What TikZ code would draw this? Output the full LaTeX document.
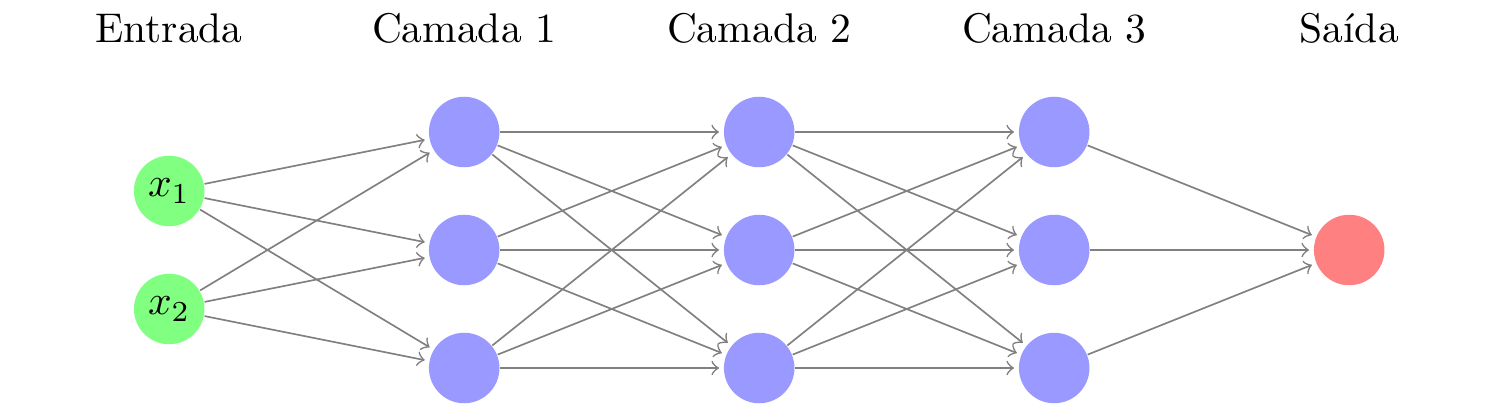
\documentclass[tikz,border=0pt]{standalone}
\usetikzlibrary{arrows}
\begin{document}
\begin{tikzpicture}[
  neuron/.style={circle,minimum size=17pt,inner sep=0pt},
  inneuron/.style={neuron,fill=green!50},
  hidneuron/.style={neuron,fill=blue!40},
  outneuron/.style={neuron,fill=red!50},
  edge/.style={->,draw=black!50,shorten >=1pt},
  lbl/.style={anchor=base}
]
\useasboundingbox (0,0) rectangle (12.627,-3.4237);
% labels
\node[lbl] (lin) at (1.4337,-0.364) {Entrada};
\node[lbl] (l1) at (3.9337,-0.364) {Camada 1};
\node[lbl] (l2) at (6.4337,-0.364) {Camada 2};
\node[lbl] (l3) at (8.9337,-0.364) {Camada 3};
\node[lbl] (lout) at (11.4337,-0.364) {Saída};
% input
\node[inneuron] (I1) at (1.4337,-1.6186) {$x_1$};
\node[inneuron] (I2) at (1.4337,-2.6186) {$x_2$};
% hidden layers
\foreach \l/\x in {A/3.9337,B/6.4337,C/8.9337}{
  \foreach \n/\y in {1/-1.1186,2/-2.1186,3/-3.1186}{
    \node[hidneuron] (\l\n) at (\x,\y) {};
  }
}
\node[outneuron] (O) at (11.4337,-2.1186) {};
% edges
\foreach \s in {1,2}{\foreach \d in {1,2,3}{\path[edge] (I\s) edge (A\d);}}
\foreach \s in {1,2,3}{\foreach \d in {1,2,3}{\path[edge] (A\s) edge (B\d);}}
\foreach \s in {1,2,3}{\foreach \d in {1,2,3}{\path[edge] (B\s) edge (C\d);}}
\foreach \s in {1,2,3}{\path[edge] (C\s) edge (O);}
\end{tikzpicture}
\end{document}
